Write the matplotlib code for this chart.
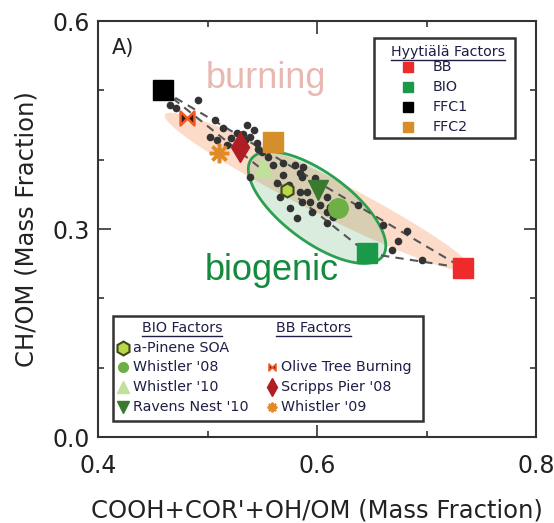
import numpy as np
import matplotlib.pyplot as plt
from matplotlib.path import Path
from matplotlib.patches import Polygon, Rectangle
from matplotlib.ticker import MultipleLocator

# Hyytiala PMF factors
hyy_names = ['BB', 'BIO', 'FFC1', 'FFC2']
hyy_x = [0.733, 0.646, 0.459, 0.560]
hyy_y = [0.244, 0.265, 0.500, 0.425]
hyy_colors = ['#ee2a2a', '#1a9a48', '#000000', '#d58f2a']

# reference factors from other studies
bio_names = ['a-Pinene SOA', "Whistler '08", "Whistler '10", "Ravens Nest '10"]
bio_x = [0.573, 0.619, 0.551, 0.601]
bio_y = [0.356, 0.330, 0.389, 0.356]
bb_names = ['Olive Tree Burning', "Scripps Pier '08", "Whistler '09"]
bb_x = [0.481, 0.530, 0.510]
bb_y = [0.460, 0.418, 0.409]

# individual samples
obs_x = [0.466, 0.471, 0.491, 0.507, 0.514, 0.502, 0.509, 0.521, 0.527, 0.536,
         0.532, 0.539, 0.545, 0.546, 0.518, 0.527, 0.539, 0.550, 0.560, 0.569,
         0.580, 0.587, 0.586, 0.569, 0.563, 0.566, 0.584, 0.591, 0.586, 0.594,
         0.609, 0.612, 0.609, 0.615, 0.609, 0.582, 0.601, 0.637, 0.660, 0.668,
         0.682, 0.674, 0.696, 0.584, 0.555, 0.574, 0.598, 0.542, 0.553, 0.575,
         0.595, 0.603, 0.534, 0.551]
obs_y = [0.479, 0.475, 0.486, 0.457, 0.446, 0.433, 0.428, 0.431, 0.438, 0.450,
         0.437, 0.433, 0.424, 0.415, 0.421, 0.417, 0.375, 0.411, 0.392, 0.395,
         0.392, 0.389, 0.375, 0.378, 0.366, 0.346, 0.353, 0.353, 0.339, 0.339,
         0.346, 0.332, 0.325, 0.317, 0.309, 0.316, 0.356, 0.335, 0.306, 0.270,
         0.297, 0.283, 0.255, 0.381, 0.404, 0.363, 0.374, 0.443, 0.417, 0.330,
         0.325, 0.335, 0.428, 0.382]

# ellipses: center, half major axis, half minor axis (data units)
burn_center = [0.601, 0.353]
burn_major = [0.140, -0.112]
burn_minor = [0.0078, 0.0245]
bio_center = [0.600, 0.331]
bio_major = [0.060, -0.070]
bio_minor = [0.0185, 0.040]


def ellipse_pts(c, u, v, n=200):
    t = np.linspace(0, 2 * np.pi, n)
    c, u, v = np.array(c), np.array(u), np.array(v)
    return c + np.outer(np.cos(t), u) + np.outer(np.sin(t), v)


bowtie = Path([(-1, 1), (-1, -1), (1, 1), (1, -1), (-1, 1)],
              [Path.MOVETO, Path.LINETO, Path.LINETO, Path.LINETO, Path.CLOSEPOLY])

bio_style = [
    dict(marker='h', ms=10, mfc='#b8d84a', mec='#3c4a1a', mew=1.5),
    dict(marker='o', ms=14, mfc='#6eaf46', mec='#6eaf46'),
    dict(marker='^', ms=13, mfc='#bfe19a', mec='#bfe19a'),
    dict(marker='v', ms=14, mfc='#3a7a30', mec='#3a7a30'),
]
bb_style = [
    dict(marker=bowtie, ms=10, mfc='#3b1a10', mec='#f05a28', mew=1.8),
    dict(marker='d', ms=15, mfc='#b01e23', mec='#b01e23'),
    dict(marker=(8, 2, 0), ms=14, mfc='#e08a2a', mec='#e08a2a', mew=2.5),
]

plt.rcParams['font.family'] = 'DejaVu Sans'
fig = plt.figure(figsize=(5.54, 5.23), dpi=100)
ax = fig.add_axes([0.177, 0.1644, 0.7906, 0.7954])

ax.add_patch(Polygon(ellipse_pts(burn_center, burn_major, burn_minor),
                     closed=True, fc='#fddbc9', ec='none', zorder=1))
ax.add_patch(Polygon(ellipse_pts(bio_center, bio_major, bio_minor),
                     closed=True, fc=(0.2, 0.6, 0.3, 0.18), ec='#2aa050', lw=2, zorder=2))

# mixing triangle FFC1 - BB - BIO
tri = [2, 0, 1, 2]
ax.plot([hyy_x[i] for i in tri], [hyy_y[i] for i in tri], ls=(0, (4, 3)),
        color='#555555', lw=1.5, zorder=3)

ax.plot(obs_x, obs_y, 'o', ms=4.5, color='#333333', zorder=4)

for x, y, c in zip(hyy_x, hyy_y, hyy_colors):
    ax.plot(x, y, 's', ms=14, color=c, zorder=5)
for x, y, st in zip(bio_x, bio_y, bio_style):
    ax.plot(x, y, ls='none', zorder=6, **st)
for x, y, st in zip(bb_x, bb_y, bb_style):
    ax.plot(x, y, ls='none', zorder=6, **st)

ax.set_xlim(0.4, 0.8)
ax.set_ylim(0.0, 0.6)
ax.xaxis.set_major_locator(MultipleLocator(0.2))
ax.xaxis.set_minor_locator(MultipleLocator(0.1))
ax.yaxis.set_major_locator(MultipleLocator(0.3))
ax.yaxis.set_minor_locator(MultipleLocator(0.1))
ax.xaxis.set_major_formatter(plt.FormatStrFormatter('%.1f'))
ax.yaxis.set_major_formatter(plt.FormatStrFormatter('%.1f'))
ax.tick_params(which='both', direction='in', top=True, right=True,
               color='#333333', width=1.2, labelsize=17, labelcolor='#222222')
ax.tick_params(which='major', length=9)
ax.tick_params(which='minor', length=4.5)
ax.tick_params(axis='x', pad=12)
ax.tick_params(axis='y', pad=6)
for s in ax.spines.values():
    s.set_color('#333333')
    s.set_linewidth(1.5)

ax.set_xlabel("COOH+COR'+OH/OM (Mass Fraction)", fontsize=17.5, color='#222222')
ax.set_ylabel('CH/OM (Mass Fraction)', fontsize=17.5, color='#222222')
ax.xaxis.set_label_coords(0.5, -0.147)
ax.yaxis.set_label_coords(-0.137, 0.5)

ax.text(0.032, 0.935, 'A)', transform=ax.transAxes, fontsize=15,
        color='#222222', va='center', weight='medium')
ax.text(0.384, 0.839, 'burning', transform=ax.transAxes, fontsize=26,
        family='Liberation Sans', color='#e8b8b2', ha='center', va='baseline')
ax.text(0.397, 0.377, 'biogenic', transform=ax.transAxes, fontsize=26,
        family='Liberation Sans', color='#138a3c', ha='center', va='baseline',
        zorder=7)

# legends drawn by hand
tc = '#1e1e46'
fs = 10.3
lkw = dict(transform=ax.transAxes, clip_on=False, ls='none', zorder=9)
ax.add_patch(Rectangle((0.630, 0.719), 0.322, 0.240, transform=ax.transAxes,
                       fc='white', ec='#333333', lw=1.8, zorder=8))
headers = [ax.text(0.799, 0.925, 'Hyytiälä Factors', transform=ax.transAxes,
                   fontsize=fs, color=tc, ha='center', va='center', zorder=9)]
rows1 = [0.889, 0.841, 0.793, 0.745]
for name, c, ry in zip(hyy_names, hyy_colors, rows1):
    ax.plot([0.708], [ry], 's', ms=7, color=c, **lkw)
    ax.text(0.765, ry, name, transform=ax.transAxes, fontsize=fs, color=tc,
            va='center', zorder=9)

ax.add_patch(Rectangle((0.034, 0.038), 0.708, 0.253, transform=ax.transAxes,
                       fc='white', ec='#333333', lw=1.8, zorder=8))
headers.append(ax.text(0.192, 0.262, 'BIO Factors', transform=ax.transAxes,
                       fontsize=fs, color=tc, ha='center', va='center', zorder=9))
headers.append(ax.text(0.491, 0.262, 'BB Factors', transform=ax.transAxes,
                       fontsize=fs, color=tc, ha='center', va='center', zorder=9))
rows2 = [0.214, 0.168, 0.120, 0.072]
leg_bio = [dict(bio_style[0], ms=10), dict(bio_style[1], ms=7),
           dict(bio_style[2], ms=8), dict(bio_style[3], ms=9)]
for name, st, ry in zip(bio_names, leg_bio, rows2):
    ax.plot([0.057], [ry], **st, **lkw)
    ax.text(0.080, ry, name, transform=ax.transAxes, fontsize=fs, color=tc,
            va='center', zorder=9)
leg_bb = [dict(bb_style[0], ms=5, mew=1.2), dict(bb_style[1], ms=9),
          dict(bb_style[2], ms=7, mew=1.5)]
for name, st, ry in zip(bb_names, leg_bb, rows2[1:]):
    ax.plot([0.397], [ry], **st, **lkw)
    ax.text(0.418, ry, name, transform=ax.transAxes, fontsize=fs, color=tc,
            va='center', zorder=9)

# underline the legend headers
fig.canvas.draw()
inv = ax.transAxes.inverted()
for t in headers:
    bb = t.get_window_extent()
    (x0, y0), (x1, _) = inv.transform([(bb.x0, bb.y0 - 1), (bb.x1, bb.y0)])
    ax.plot([x0, x1], [y0, y0], color=tc, lw=1, transform=ax.transAxes,
            clip_on=False, zorder=9)

fig.savefig('out.png', dpi=100)
